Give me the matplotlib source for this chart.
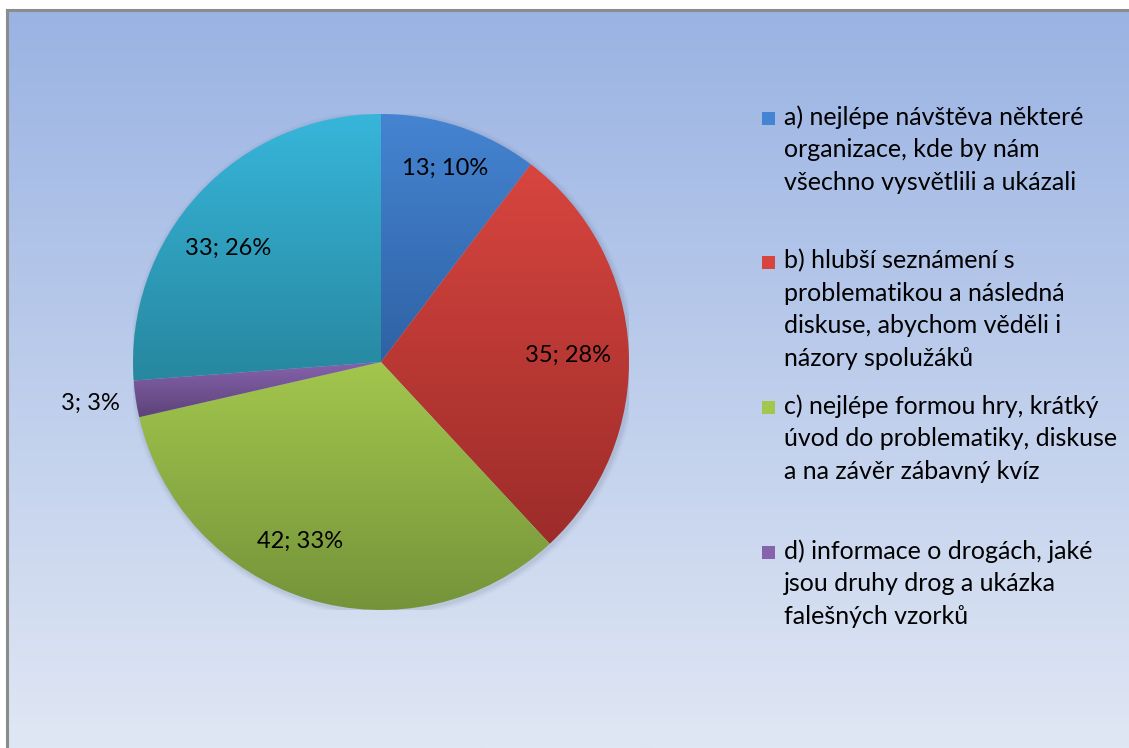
import numpy as np
import matplotlib
matplotlib.use('Agg')
import matplotlib.pyplot as plt
from matplotlib.colors import LinearSegmentedColormap
from matplotlib.patches import Rectangle, Circle

plt.rcParams['font.family'] = ['Lato', 'DejaVu Sans']

values = [13, 35, 42, 3, 33]
percents = ['10%', '28%', '33%', '3%', '26%']
legend_labels = [
    'a) nejlépe návštěva některé\norganizace, kde by nám\nvšechno vysvětlili a ukázali',
    'b) hlubší seznámení s\nproblematikou a následná\ndiskuse, abychom věděli i\nnázory spolužáků',
    'c) nejlépe formou hry, krátký\núvod do problematiky, diskuse\na na závěr zábavný kvíz',
    'd) informace o drogách, jaké\njsou druhy drog a ukázka\nfalešných vzorků',
]
# (top colour, bottom colour) for each slice
slice_colors = [
    ('#4584d2', '#2f62a4'),
    ('#d8453f', '#9c2c2a'),
    ('#a3c64d', '#74933a'),
    ('#8663ad', '#5d4379'),
    ('#37b6da', '#27879f'),
]

W, H, DPI = 1129, 748, 100
fig = plt.figure(figsize=(W / DPI, H / DPI), dpi=DPI)
fig.patch.set_facecolor('white')

# chart area with vertical gradient and grey frame on the left/top
bg = fig.add_axes([7 / W, 0, 1 - 7 / W, 1 - 10 / H])
grad = np.linspace(0, 1, 256).reshape(-1, 1)
bg_cmap = LinearSegmentedColormap.from_list('bg', ['#9ab3e3', '#e0e7f4'])
bg.imshow(grad, aspect='auto', cmap=bg_cmap, extent=[0, 1, 0, 1], origin='upper')
bg.set_xlim(0, 1)
bg.set_ylim(0, 1)
bg.set_xticks([])
bg.set_yticks([])
for side in ['right', 'bottom']:
    bg.spines[side].set_visible(False)
for side in ['left', 'top']:
    bg.spines[side].set_color('#8c8c8c')
    bg.spines[side].set_linewidth(2.2)

# pie
cx, cy, r = 381, 362, 248
ax = fig.add_axes([(cx - r) / W, (H - cy - r) / H, 2 * r / W, 2 * r / H])
ax.set_xlim(-1, 1)
ax.set_ylim(-1, 1)
ax.set_aspect('equal')
ax.axis('off')

# soft shadow around the pie
for i, a in enumerate([0.05, 0.04, 0.03, 0.02]):
    ax.add_patch(Circle((0.006, -0.008), 1.0 + 0.006 * (i + 1), color='#33415c',
                        alpha=a, lw=0, zorder=0))

wedges, _ = ax.pie(values, startangle=90, counterclock=False, radius=1,
                   wedgeprops=dict(linewidth=0))
for w, (c_top, c_bot) in zip(wedges, slice_colors):
    verts = w.get_path().vertices
    x0, x1 = verts[:, 0].min(), verts[:, 0].max()
    y0, y1 = verts[:, 1].min(), verts[:, 1].max()
    cmap = LinearSegmentedColormap.from_list('s', [c_top, c_bot])
    im = ax.imshow(grad, aspect='auto', cmap=cmap, extent=[x0, x1, y0, y1],
                   origin='upper', zorder=2)
    im.set_clip_path(w)
    w.set_facecolor('none')
ax.set_xlim(-1, 1)
ax.set_ylim(-1, 1)

# data labels
label_pos = [(445, 168), (568, 355), (300, 541), (90, 403), (228, 248)]
for (px, py), v, p in zip(label_pos, values, percents):
    x = (px - cx) / r
    y = (cy - py) / r
    ax.text(x, y, f'{v}; {p}', ha='center', va='center', fontsize=17,
            color='black', zorder=5, clip_on=False)

# legend
entry_y = [118, 262, 407, 552]
for (c_top, c_bot), lab, ey in zip(slice_colors, legend_labels, entry_y):
    sq = 13
    fig.patches.append(Rectangle((762 / W, (H - ey - sq / 2) / H), sq / W, sq / H,
                                 transform=fig.transFigure, facecolor=c_top,
                                 edgecolor='none', figure=fig))
    fig.text(784 / W, (H - ey + 13) / H, lab, ha='left', va='top', fontsize=18,
             linespacing=1.5, color='black')

fig.savefig('out.png', dpi=DPI)
